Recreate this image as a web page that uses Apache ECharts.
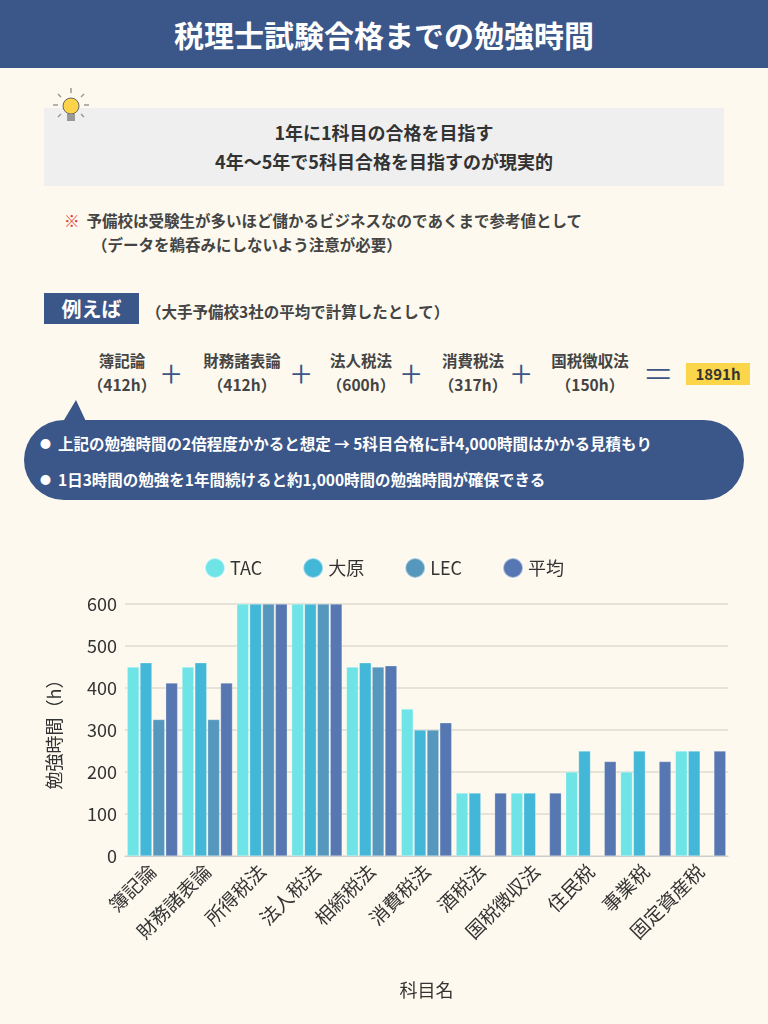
<!DOCTYPE html>
<html><head><meta charset="utf-8">
<script src="https://cdn.jsdelivr.net/npm/echarts@6/dist/echarts.min.js"></script>
<style>
body{margin:0;width:768px;height:1024px;background:#fdf9ee;font-family:"Noto Sans CJK JP","Noto Sans",sans-serif;color:#333;position:relative;overflow:hidden}
.abs{position:absolute}
#hdr{left:0;top:0;width:768px;height:68px;background:#3b5688;color:#fff;font-size:30px;font-weight:bold;text-align:center;line-height:68px}
#box{left:44px;top:108px;width:680px;height:78px;background:#efefef;text-align:center;font-weight:bold;font-size:18px;line-height:29px;padding-top:10px;box-sizing:border-box}
.note{font-size:15.5px;font-weight:bold;color:#444}
#eg{left:44px;top:293px;width:95px;height:31px;background:#3b5688;color:#fff;font-weight:bold;font-size:20px;text-align:center;line-height:31px}
.f{font-size:15.5px;font-weight:bold;text-align:center;line-height:24px;color:#444}
.op{font-size:38px;color:#3b5688;font-weight:300}
#bub{left:24px;top:420px;width:720px;height:80px;background:#3b5688;border-radius:40px;color:#fff;font-size:15.5px;font-weight:bold}
#bub div{position:absolute;left:16px}
#chart{left:0;top:540px;width:768px;height:484px}
</style></head><body>
<div id="hdr" class="abs">税理士試験合格までの勉強時間</div>
<div id="box" class="abs">1年に1科目の合格を目指す<br>4年〜5年で5科目合格を目指すのが現実的</div>
<svg class="abs" style="left:50px;top:86px;z-index:2" width="42" height="46">
<g stroke="#999" stroke-width="1.5"><line x1="21" y1="2" x2="21" y2="7"/><line x1="8" y1="8" x2="11" y2="11"/><line x1="34" y1="8" x2="31" y2="11"/><line x1="3" y1="19" x2="8" y2="19"/><line x1="34" y1="19" x2="39" y2="19"/><line x1="8" y1="31" x2="11" y2="28"/><line x1="34" y1="31" x2="31" y2="28"/></g>
<circle cx="21" cy="20" r="8" fill="#fcd349" stroke="#666" stroke-width="1"/>
<rect x="17" y="28" width="8" height="7" fill="#999"/></svg>
<div class="abs note" style="left:64px;top:209px"><span style="color:#e53935">※</span>&nbsp;&nbsp;予備校は受験生が多いほど儲かるビジネスなのであくまで参考値として</div>
<div class="abs note" style="left:92px;top:233px">（データを鵜呑みにしないよう注意が必要）</div>
<div id="eg" class="abs">例えば</div>
<div class="abs note" style="left:146px;top:300px">（大手予備校3社の平均で計算したとして）</div>
<div class="abs f" style="left:82px;top:348px;width:80px">簿記論<br>（412h）</div>
<div class="abs op" style="left:161px;top:344px">+</div>
<div class="abs f" style="left:192px;top:348px;width:100px">財務諸表論<br>（412h）</div>
<div class="abs op" style="left:291px;top:344px">+</div>
<div class="abs f" style="left:316px;top:348px;width:90px">法人税法<br>（600h）</div>
<div class="abs op" style="left:401px;top:344px">+</div>
<div class="abs f" style="left:428px;top:348px;width:90px">消費税法<br>（317h）</div>
<div class="abs op" style="left:511px;top:344px">+</div>
<div class="abs f" style="left:540px;top:348px;width:100px">国税徴収法<br>（150h）</div>
<div class="abs op" style="left:648px;top:344px;transform:scaleX(1.3)">=</div>
<div class="abs" style="left:686px;top:363px;width:64px;height:22px;background:#fbd54a;font-weight:bold;font-size:15px;text-align:center;line-height:22px">1891h</div>
<svg class="abs" style="left:40px;top:400px" width="60" height="40"><polygon points="36,0 18,30 50,30" fill="#3b5688"/></svg>
<div id="bub" class="abs">
<div style="top:12px"><span style="font-size:11px;vertical-align:2px">●</span>&nbsp;&nbsp;上記の勉強時間の2倍程度かかると想定 → 5科目合格に計4,000時間はかかる見積もり</div>
<div style="top:48px"><span style="font-size:11px;vertical-align:2px">●</span>&nbsp;&nbsp;1日3時間の勉強を1年間続けると約1,000時間の勉強時間が確保できる</div>
</div>
<div id="chart" class="abs"></div>
<script>
const categories=["簿記論","財務諸表論","所得税法","法人税法","相続税法","消費税法","酒税法","国税徴収法","住民税","事業税","固定資産税"];
const tac=[450,450,600,600,450,350,150,150,200,200,250];
const ohara=[460,460,600,600,460,300,150,150,250,250,250];
const lec=[325,325,600,600,450,300,null,null,null,null,null];
const avg=[412,412,600,600,453,317,150,150,225,225,250];
const names=["TAC","大原","LEC","平均"];
const colors=["#6ee4e7","#42b7d7","#5597bd","#5677b1"];
const c=echarts.init(document.getElementById('chart'));
const font='"Noto Sans CJK JP","Noto Sans",sans-serif';
c.setOption({
 color:colors,textStyle:{fontFamily:font},
 legend:{top:12,left:'center',itemGap:40,icon:'circle',itemWidth:20,itemHeight:20,textStyle:{fontSize:18,color:'#333'}},
 grid:{left:125,right:40,top:64,bottom:168},
 xAxis:{type:'category',data:categories,name:'科目名',nameLocation:'middle',nameGap:125,nameTextStyle:{fontSize:18,color:'#333'},
  axisTick:{show:false},axisLine:{lineStyle:{color:'#ccc'}},axisLabel:{rotate:45,fontSize:19,color:'#333',interval:0,margin:12}},
 yAxis:{type:'value',min:0,max:600,interval:100,name:'勉強時間（h）',nameLocation:'middle',nameGap:62,nameRotate:90,
  nameTextStyle:{fontSize:18,color:'#333'},axisLabel:{fontSize:18,color:'#333'},splitLine:{lineStyle:{color:'#dedbd2',width:1.5}}},
 series:[tac,ohara,lec,avg].map((d,i)=>({name:names[i],type:'bar',data:d,barGap:'8%',barCategoryGap:'8%',itemStyle:{borderColor:'rgba(255,255,255,0.5)',borderWidth:0.5}}))
});
</script>
</body></html>
